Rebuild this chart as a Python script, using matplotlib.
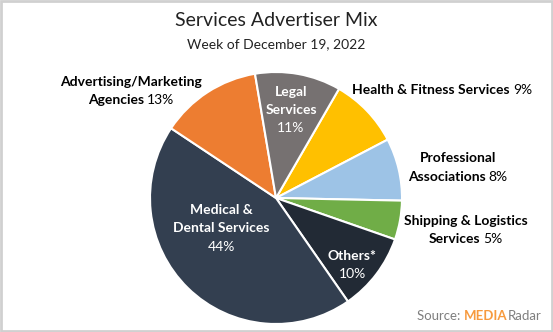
import matplotlib.pyplot as plt
from matplotlib.patches import Rectangle

plt.rcParams['font.family'] = ['Lato', 'DejaVu Sans']

# slices in clockwise order, starting at the Health & Fitness slice
categories = ["Health & Fitness Services", "Professional Associations",
              "Shipping & Logistics Services", "Others*",
              "Medical & Dental Services", "Advertising/Marketing Agencies",
              "Legal Services"]
shares = [9, 8, 5, 10, 44, 13, 11]
colors = ["#FFC000", "#9DC3E6", "#70AD47", "#222A35", "#333F50", "#ED7D31", "#767171"]

W, H = 553, 332
fig = plt.figure(figsize=(W / 100, H / 100), dpi=100)
ax = fig.add_axes([0, 0, 1, 1])
ax.set_xlim(0, W)
ax.set_ylim(0, H)
ax.set_aspect("equal")
ax.axis("off")

cx, cy, r = 276, H - 198, 126
ax.pie(shares, colors=colors, startangle=60, counterclock=False,
       center=(cx, cy), radius=r, frame=True,
       wedgeprops=dict(edgecolor="white", linewidth=1.5))
ax.set_xlim(0, W)
ax.set_ylim(0, H)
ax.axis("off")

renderer = fig.canvas.get_renderer()


def mixed_line(x, y_img, parts, color="black", size=10, gap=3):
    """Draw a line made of (text, weight) parts centred on x."""
    y = H - y_img
    texts = [ax.text(0, y, s, fontsize=size, fontweight=w, color=color,
                     ha="left", va="center") for s, w in parts]
    widths = [t.get_window_extent(renderer).width for t in texts]
    cur = x - (sum(widths) + gap * (len(parts) - 1)) / 2
    for t, w in zip(texts, widths):
        t.set_x(cur)
        cur += w + gap


B, N = "bold", "normal"
# outside labels
mixed_line(131, 82, [("Advertising/Marketing", B)])
mixed_line(131, 100, [("Agencies", B), ("13%", N)])
mixed_line(442, 90, [("Health & Fitness Services", B), ("9%", N)])
mixed_line(458, 158, [("Professional", B)])
mixed_line(458, 177, [("Associations", B), ("8%", N)])
mixed_line(466, 221, [("Shipping & Logistics", B)])
mixed_line(466, 239, [("Services", B), ("5%", N)])

# inside labels
mixed_line(291, 92, [("Legal", B)], color="white")
mixed_line(291, 110, [("Services", B)], color="white")
mixed_line(291, 128, [("11%", N)], color="white")
mixed_line(221, 210, [("Medical &", B)], color="white")
mixed_line(221, 228, [("Dental Services", B)], color="white")
mixed_line(221, 247, [("44%", N)], color="white")
mixed_line(352, 256, [("Others*", B)], color="white")
mixed_line(352, 274, [("10%", N)], color="white")

# title
fig.text(0.5, 1 - 20 / H, "Services Advertiser Mix", ha="center", va="center",
         fontsize=14, color="#222222")
fig.text(0.5, 1 - 44 / H, "Week of December 19, 2022", ha="center", va="center",
         fontsize=10, color="#222222")

# source
src = [("Source: ", N, "#7f7f7f"), ("MEDIA", B, "#F79A3E"), ("Radar", N, "#7f7f7f")]
cur = 417
for s, w, c in src:
    t = ax.text(cur, H - 316, s, fontsize=9.5, fontweight=w, color=c,
                ha="left", va="center")
    cur += t.get_window_extent(renderer).width

fig.patches.append(Rectangle((0.002, 0.004), 0.996, 0.992, transform=fig.transFigure,
                             fill=False, edgecolor="#d0d0d0", linewidth=2))

fig.savefig("out.png", dpi=100)
